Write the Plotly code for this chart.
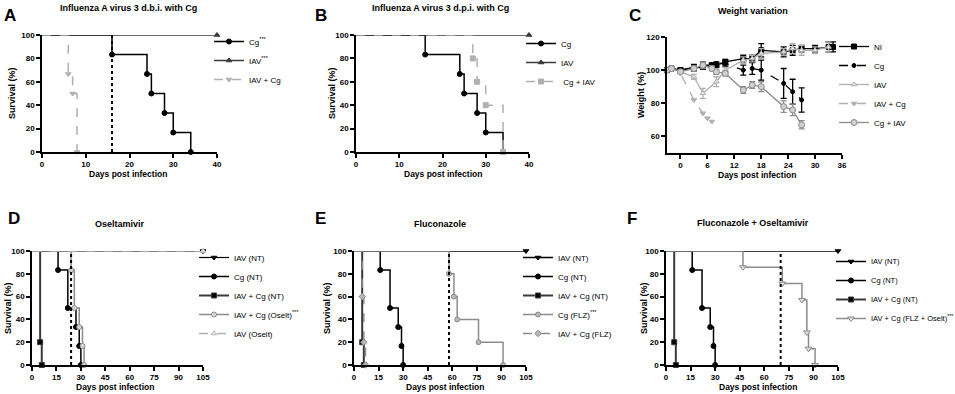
import plotly.graph_objects as go

W, H = 955, 394

# ---------------- data ----------------
# Panels A/B (survival, %)
cg_days = [0, 16, 24, 25, 28, 30, 34]
cg_surv = [100, 83.3, 66.7, 50, 33.3, 16.7, 0]
iav_days_ab = [0, 40]
iav_surv_ab = [100, 100]
iavcg_days_a = [0, 6, 7, 8]
iavcg_surv_a = [100, 66.7, 50, 0]
cgiav_days_b = [0, 27, 28, 30, 34]
cgiav_surv_b = [100, 80, 60, 40, 0]

# Panel C (weight, %)
ni_wd = [-3, -2, 0, 3, 5, 7, 8, 10, 14, 16, 18, 23, 25, 27, 30, 33, 34]
ni_w = [100, 101, 100, 101, 102, 103, 103, 105, 107, 107, 112, 111, 112, 113, 113, 114, 114]
ni_e = [0.5, 0.5, 1, 1.5, 1.5, 1, 1, 1.5, 2, 2, 4, 3, 3, 2, 2, 3, 3]
cg_wd = [-3, -2, 0, 3, 5, 7, 8, 10, 14, 16, 18, 23, 25, 27]
cg_w = [100, 101, 100, 102, 103, 103, 104, 104, 100, 101, 100, 92, 87, 82]
cg_e = [0.5, 0.5, 1, 1.5, 2, 1, 1, 1.5, 3, 3.5, 6, 9, 7.5, 7.3]
iav_wd = [-3, -2, 0, 3, 5, 8, 10, 14, 16, 18, 23, 25, 27, 30, 33]
iav_w = [100, 101, 99, 96, 86, 93, 100, 106, 107, 110, 111, 113, 112, 112, 114]
iav_e = [0.5, 0.5, 1, 1.5, 3, 3, 1.5, 2, 2, 3, 2, 3, 3, 2, 3]
iavcg_wd = [-3, -2, 0, 3, 5, 6, 7]
iavcg_w = [100, 101, 98, 82, 74, 71, 69]
cgiav_wd = [-3, -2, 0, 3, 5, 7, 8, 10, 14, 16, 18, 23, 25, 27]
cgiav_w = [100, 101, 99, 101, 103, 101, 99, 98, 88, 91, 90, 78, 76, 67]
cgiav_e = [0.5, 0.5, 1, 1.5, 2, 1.5, 1.5, 1.5, 2, 2, 3, 3.5, 3.5, 2.5]

# Panels D/E/F (survival, %)
iav_nt_days = [0, 105]
iav_nt_surv = [100, 100]
cg_nt_days = [0, 16, 22, 27, 29, 30]
cg_nt_surv = [100, 83.3, 50, 33.3, 16.7, 0]
iavcg_nt_days = [0, 5, 6]
iavcg_nt_surv = [100, 20, 0]
iavcg_os_days = [0, 24, 26, 29, 31, 32]
iavcg_os_surv = [100, 83.3, 50, 33.3, 16.7, 0]
iav_os_days = [0, 105]
iav_os_surv = [100, 100]
cg_flz_days = [0, 58, 61, 63, 76, 91]
cg_flz_surv = [100, 80, 60, 40, 20, 0]
iavcg_flz_days = [0, 5, 6, 7]
iavcg_flz_surv = [100, 60, 20, 0]
iavcg_fo_days = [0, 47, 71, 83, 86, 87, 91]
iavcg_fo_surv = [100, 85.7, 71.4, 57.1, 28.6, 14.3, 0]

# significance marker day per panel
sig_a, sig_d, sig_e, sig_f = 16, 24, 58, 70

FONT = "Liberation Sans, Arial, sans-serif"
BLACK, DARK, MID, LIGHT = "#000000", "#3a3a3a", "#8c8c8c", "#b0b0b0"

fig = go.Figure()


def px2x(p):
    return p / W


def px2y(p):
    return 1 - p / H


def survival(days, surv, name, color, symbol, dash, fill, xa, ya, leg, ms=5, lw=1.5):
    # step line
    fig.add_trace(go.Scatter(x=days, y=surv, mode="lines", line=dict(shape="hv", color=color, width=lw, dash=dash),
                             xaxis=xa, yaxis=ya, showlegend=False, hoverinfo="skip", cliponaxis=False))
    # event markers
    fig.add_trace(go.Scatter(x=days[1:], y=surv[1:], mode="markers",
                             marker=dict(symbol=symbol, size=ms, color=fill, line=dict(color=color, width=1)),
                             xaxis=xa, yaxis=ya, showlegend=False, cliponaxis=False))
    # legend entry
    fig.add_trace(go.Scatter(x=[None], y=[None], mode="lines+markers", name=name,
                             line=dict(color=color, width=lw, dash=dash),
                             marker=dict(symbol=symbol, size=ms, color=fill, line=dict(color=color, width=1)),
                             xaxis=xa, yaxis=ya, legend=leg))


def weight(days, w, err, name, color, symbol, dash, fill, leg, ms=5):
    fig.add_trace(go.Scatter(x=days, y=w, mode="lines+markers", name=name,
                             line=dict(color=color, width=1.3, dash=dash),
                             marker=dict(symbol=symbol, size=ms, color=fill, line=dict(color=color, width=1)),
                             error_y=dict(type="data", array=err, color=color, thickness=1.3, width=3,
                                          visible=err is not None),
                             xaxis="x3", yaxis="y3", legend=leg, cliponaxis=False))


# Panel A
survival(cg_days, cg_surv, "Cg<sup>***</sup>", BLACK, "circle", "solid", BLACK, "x", "y", "legend")
survival(iav_days_ab, iav_surv_ab, "IAV<sup>***</sup>", DARK, "triangle-up", "solid", DARK, "x", "y", "legend")
survival(iavcg_days_a, iavcg_surv_a, "IAV + Cg", LIGHT, "triangle-down", "dash", LIGHT, "x", "y", "legend")
# Panel B
survival(cg_days, cg_surv, "Cg", BLACK, "circle", "solid", BLACK, "x2", "y2", "legend2")
survival(iav_days_ab, iav_surv_ab, "IAV", DARK, "triangle-up", "solid", DARK, "x2", "y2", "legend2")
survival(cgiav_days_b, cgiav_surv_b, " Cg + IAV", LIGHT, "square", "dash", LIGHT, "x2", "y2", "legend2")
# Panel C
weight(ni_wd, ni_w, ni_e, "NI", BLACK, "square", "solid", BLACK, "legend3")
weight(cg_wd, cg_w, cg_e, "Cg", BLACK, "circle", "dash", BLACK, "legend3", ms=4)
weight(iav_wd, iav_w, iav_e, "IAV", LIGHT, "triangle-up", "solid", "#e6e6e6", "legend3")
weight(iavcg_wd, iavcg_w, None, "IAV + Cg", LIGHT, "triangle-down", "dash", LIGHT, "legend3")
weight(cgiav_wd, cgiav_w, cgiav_e, "Cg + IAV", MID, "circle", "solid", "#d0d0d0", "legend3", ms=6)
# Panel D
survival(iav_nt_days, iav_nt_surv, "IAV (NT)", BLACK, "triangle-down", "solid", BLACK, "x4", "y4", "legend4", lw=1.2)
survival(cg_nt_days, cg_nt_surv, "Cg (NT)", BLACK, "circle", "solid", BLACK, "x4", "y4", "legend4")
survival(iavcg_nt_days, iavcg_nt_surv, "IAV + Cg (NT)", DARK, "square", "solid", BLACK, "x4", "y4", "legend4", lw=2)
survival(iavcg_os_days, iavcg_os_surv, "IAV + Cg (Oselt)<sup>***</sup>", MID, "circle", "solid", "#d8d8d8", "x4", "y4", "legend4")
survival(iav_os_days, iav_os_surv, "IAV (Oselt)", LIGHT, "triangle-up", "dash", "#eeeeee", "x4", "y4", "legend4")
# Panel E
survival(iav_nt_days, iav_nt_surv, "IAV (NT)", BLACK, "triangle-down", "solid", BLACK, "x5", "y5", "legend5")
survival(cg_nt_days, cg_nt_surv, "Cg (NT)", BLACK, "circle", "solid", BLACK, "x5", "y5", "legend5")
survival(iavcg_nt_days, iavcg_nt_surv, "IAV + Cg (NT)", DARK, "square", "solid", BLACK, "x5", "y5", "legend5", lw=2)
survival(cg_flz_days, cg_flz_surv, "Cg (FLZ)<sup>***</sup>", MID, "circle", "solid", "#b8b8b8", "x5", "y5", "legend5")
survival(iavcg_flz_days, iavcg_flz_surv, "IAV + Cg (FLZ)", MID, "diamond", "dash", "#b8b8b8", "x5", "y5", "legend5")
# Panel F
survival(iav_nt_days, iav_nt_surv, "IAV (NT)", BLACK, "triangle-down", "solid", BLACK, "x6", "y6", "legend6")
survival(cg_nt_days, cg_nt_surv, "Cg (NT)", BLACK, "circle", "solid", BLACK, "x6", "y6", "legend6")
survival(iavcg_nt_days, iavcg_nt_surv, "IAV + Cg (NT)", DARK, "square", "solid", BLACK, "x6", "y6", "legend6", lw=2)
survival(iavcg_fo_days, iavcg_fo_surv, "IAV + Cg (FLZ + Oselt)<sup>***</sup>", MID, "triangle-down", "solid", "#dddddd", "x6", "y6", "legend6", ms=6)

# ---------------- axes ----------------
tickfont = dict(family=FONT, size=8, color="black", weight="bold")
panels = {
    # name: (x-pixel left, right, y-pixel top, bottom, xrange, xdtick, yrange, ydtick)
    "1": (42, 217, 35, 152, [0, 40], 10, [0, 100], 20),
    "2": (356, 529, 35, 152, [0, 40], 10, [0, 100], 20),
    "3": (667, 842, 37, 153, [-3, 36], 6, [50, 120], 20),
    "4": (32, 203, 251, 365, [0, 105], 15, [0, 100], 20),
    "5": (354, 526, 251, 365, [0, 105], 15, [0, 100], 20),
    "6": (666, 838, 251, 365, [0, 105], 15, [0, 100], 20),
}
layout = {}
for k, (x0, x1, yt, yb, xr, xd, yr, yd) in panels.items():
    sfx = "" if k == "1" else k
    common = dict(showline=True, linecolor="black", linewidth=1.5, ticks="outside", ticklen=4,
                  tickwidth=1.5, tickcolor="black", showgrid=False, zeroline=False, tickfont=tickfont,
                  fixedrange=True, automargin=False)
    layout["xaxis" + sfx] = dict(domain=[px2x(x0), px2x(x1)], range=xr, dtick=xd, tick0=0,
                                 anchor="y" + sfx, **common)
    layout["yaxis" + sfx] = dict(domain=[px2y(yb), px2y(yt)], range=yr, dtick=yd, tick0=0,
                                 anchor="x" + sfx, **common)

# ---------------- legends ----------------
leg_pos = {"legend": (209, 27, 8), "legend2": (521, 29, 8), "legend3": (834, 32, 8),
           "legend4": (194, 243, 8), "legend5": (518, 243, 8), "legend6": (831, 247, 7.5)}
for name, (lx, ly, fs) in leg_pos.items():
    layout[name] = dict(x=px2x(lx), y=px2y(ly), xanchor="left", yanchor="top",
                        font=dict(family=FONT, size=fs, color="black"),
                        bgcolor="rgba(0,0,0,0)", itemwidth=30, tracegroupgap=0, borderwidth=0)

# ---------------- significance lines ----------------
shapes = []
annotations = []
for xa, ya, day, ytop, ytxt in [("x", "y", sig_a, 104, 112), ("x4", "y4", sig_d, 110, 111),
                                ("x5", "y5", sig_e, 110, 111), ("x6", "y6", sig_f, 110, 111)]:
    shapes.append(dict(type="line", xref=xa, yref=ya, x0=day, x1=day, y0=0, y1=ytop,
                       line=dict(color="black", width=2, dash="dot")))
    annotations.append(dict(xref=xa, yref=ya, x=day, y=ytxt, text="***", showarrow=False,
                            font=dict(family=FONT, size=9, color="black", weight="bold"),
                            xanchor="center", yanchor="middle"))


def txt(x, y, text, size=9, bold=True, angle=0, xanchor="center"):
    annotations.append(dict(xref="paper", yref="paper", x=px2x(x), y=px2y(y), text=text, showarrow=False,
                            textangle=angle, xanchor=xanchor, yanchor="middle",
                            font=dict(family=FONT, size=size, color="black", weight="bold" if bold else "normal")))


# panel letters
for letter, (lx, ly) in {"A": (2, 15), "B": (313, 15), "C": (627, 15),
                          "D": (6, 219), "E": (313, 219), "F": (625, 219)}.items():
    txt(lx, ly, letter, size=17, xanchor="left")

# titles
txt(128, 8, "Influenza A virus 3 d.b.i. with Cg")
txt(440, 8, "Influenza A virus 3 d.p.i. with Cg")
txt(753, 11, "Weight variation")
txt(120, 224, "Oseltamivir")
txt(440, 224, "Fluconazole")
txt(753, 223, "Fluconazole + Oseltamivir")

# axis titles
for x, y in [(12, 93), (332, 93), (8, 308), (327, 308), (644, 308)]:
    txt(x, y, "Survival (%)", size=9, angle=-90)
txt(641, 95, "Weight (%)", size=9, angle=-90)
for x, y in [(128, 174), (443, 174), (757, 175), (115, 387), (445, 387), (758, 387)]:
    txt(x, y, "Days post infection", size=8.5)

fig.update_layout(width=W, height=H, margin=dict(l=0, r=0, t=0, b=0, autoexpand=False), paper_bgcolor="white",
                  plot_bgcolor="white", shapes=shapes, annotations=annotations,
                  font=dict(family=FONT, color="black"), **layout)

fig.write_html("out.html", config={"displayModeBar": False},
               post_script="document.body.style.margin='0';document.body.style.overflow='hidden';")
